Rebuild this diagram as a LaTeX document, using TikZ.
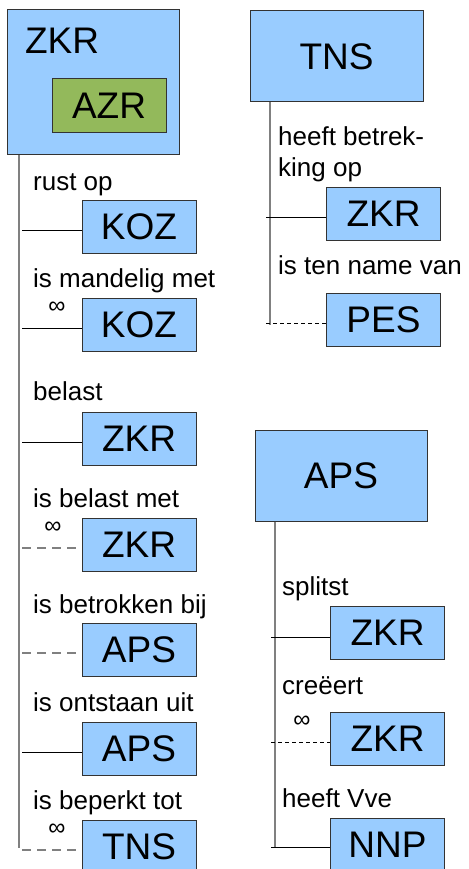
\documentclass[tikz,border=0pt]{standalone}
\usepackage{fontspec}
\setmainfont{Liberation Sans}
\usepackage{tikz}

\definecolor{boxblue}{RGB}{153,204,255}
\definecolor{azrgreen}{RGB}{147,185,91}
\definecolor{boxedge}{RGB}{51,51,51}
\definecolor{spinegray}{RGB}{128,128,128}

\begin{document}
\begin{tikzpicture}[x=1pt,y=-1pt,
  objtype/.style={draw=boxedge,fill=boxblue,line width=1pt,inner sep=0pt,font=\fontsize{37}{40}\selectfont},
  bigtype/.style={objtype,minimum width=172pt,minimum height=91pt},
  reftype/.style={objtype,minimum width=114pt,minimum height=53pt},
  rolename/.style={anchor=base west,inner sep=0pt,align=left,font=\fontsize{26}{32}\selectfont},
  many/.style={inner sep=0pt,font=\fontsize{24}{24}\selectfont},
  spine/.style={draw=spinegray,line width=1.3pt},
  must/.style={line width=0.9pt},
  may/.style={draw=spinegray,line width=1.2pt,dash pattern=on 9pt off 6pt},
  mayfine/.style={line width=0.9pt,dash pattern=on 4pt off 3pt}]

\useasboundingbox (0,0) rectangle (468,869);

\node[objtype,minimum width=172pt,minimum height=145pt] (zkr) at (93,82.5) {};

\node[inner sep=0pt,font=\fontsize{37}{40}\selectfont] (zkrname) at (62,41) {ZKR};

\node[objtype,fill=azrgreen,minimum width=114pt,minimum height=54pt] (azr) at (109,106) {AZR};

\coordinate (zkrend) at (19,848);

\draw[spine] (zkr.south -| zkrend) -- (zkrend);

\node[rolename] (rol1) at (33,190) {rust op};

\node[reftype] (koz1) at (139,226.5) {KOZ};

\coordinate (r1) at (22,230);

\draw[must] (r1) -- (r1 -| koz1.west);

\node[rolename] (rol2) at (33,287) {is mandelig met};

\node[many] (m2) at (57,308) {∞};

\node[reftype] (koz2) at (139,325) {KOZ};

\coordinate (r2) at (22,328);

\draw[must] (r2) -- (r2 -| koz2.west);

\node[rolename] (rol3) at (33,400) {belast};

\node[reftype] (zkr3) at (139,438.5) {ZKR};

\coordinate (r3) at (22,442);

\draw[must] (r3) -- (r3 -| zkr3.west);

\node[rolename] (rol4) at (33,507) {is belast met};

\node[many] (m4) at (53,528) {∞};

\node[reftype] (zkr4) at (139,544.5) {ZKR};

\coordinate (r4) at (22,548);

\draw[may] (r4) -- (r4 -| zkr4.west);

\node[rolename] (rol5) at (33,613) {is betrokken bij};

\node[reftype] (aps5) at (139,650) {APS};

\coordinate (r5) at (22,653);

\draw[may] (r5) -- (r5 -| aps5.west);

\node[rolename] (rol6) at (33,711) {is ontstaan uit};

\node[reftype] (aps6) at (139,748.5) {APS};

\coordinate (r6) at (22,752);

\draw[must] (r6) -- (r6 -| aps6.west);

\node[rolename] (rol7) at (33,809) {is beperkt tot};

\node[many] (m7) at (57,830) {∞};

\node[reftype] (tns7) at (139,846.5) {TNS};

\coordinate (r7) at (22,850);

\draw[may] (r7) -- (r7 -| tns7.west);

\node[bigtype,minimum width=173pt] (tns) at (336.5,56.5) {TNS};

\coordinate (tnsend) at (270,325);

\draw[spine] (tns.south -| tnsend) -- (tnsend);

\node[rolename] (rol8) at (278,177) {heeft betrek-\\king op};

\node[reftype] (zkr8) at (383.5,213.5) {ZKR};

\coordinate (r8) at (266,217);

\draw[must] (r8) -- (r8 -| zkr8.west);

\node[rolename] (rol9) at (278,274) {is ten name van};

\node[reftype] (pes9) at (383.5,320) {PES};

\coordinate (r9) at (266,323);

\draw[mayfine] (r9) -- (r9 -| pes9.west);

\node[bigtype] (aps) at (341,475.5) {APS};

\coordinate (apsend) at (275,847);

\draw[spine] (aps.south -| apsend) -- (apsend);

\node[rolename] (rol10) at (282,595) {splitst};

\node[reftype] (zkr10) at (387.5,632.5) {ZKR};

\coordinate (r10) at (271,637);

\draw[must] (r10) -- (r10 -| zkr10.west);

\node[rolename] (rol11) at (282,694) {creëert};

\node[many] (m11) at (302,722) {∞};

\node[reftype] (zkr11) at (387.5,738.5) {ZKR};

\coordinate (r11) at (271,742);

\draw[mayfine] (r11) -- (r11 -| zkr11.west);

\node[rolename] (rol12) at (282,807) {heeft Vve};

\node[reftype] (nnp12) at (387.5,844.5) {NNP};

\coordinate (r12) at (271,847);

\draw[must] (r12) -- (r12 -| nnp12.west);

\end{tikzpicture}
\end{document}
